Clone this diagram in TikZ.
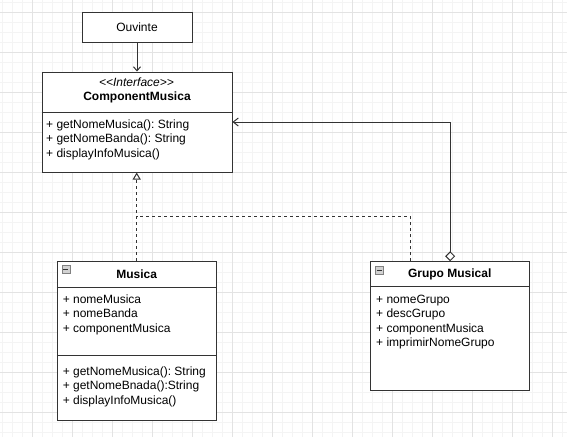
\documentclass[tikz,border=0pt]{standalone}
\usepackage{fontspec}
\setmainfont{Liberation Sans}
\usetikzlibrary{calc}
\usetikzlibrary{arrows.meta}
\frenchspacing

\definecolor{gridmajor}{HTML}{E3E3E3}
\definecolor{gridminor}{HTML}{F4F4F4}
\definecolor{umlline}{HTML}{333333}

\tikzset{
    classbox/.style={draw=umlline, line width=1pt, fill=white, inner sep=0pt},
    classname/.style={inner sep=0pt, font=\fontsize{12}{14}\selectfont\bfseries},
    member/.style={anchor=west, inner sep=0pt, text height=8.7pt, text depth=2.5pt,
        font=\fontsize{12}{14}\selectfont},
    assoc/.style={draw=umlline, line width=1pt, -{Straight Barb[length=4pt,width=7pt]}},
    realize/.style={draw=umlline, line width=1pt, dash pattern=on 3pt off 3pt,
        -{Triangle[length=7pt,width=8pt,fill=white]}},
    realizeline/.style={draw=umlline, line width=1pt, dash pattern=on 3pt off 3pt},
    aggr/.style={draw=umlline, line width=1pt,
        {Diamond[length=10pt,width=10pt,fill=white]}-{Straight Barb[length=5pt,width=8pt]}}
}

\begin{document}
\begin{tikzpicture}[x=1pt,y=-1pt]
        \useasboundingbox (0,0) rectangle (567,437);
        \fill[white] (0,0) rectangle (567,437);

        % grid
        \foreach \x in {2,12,...,562}
            \draw[gridminor, line width=0.8pt] (\x,0) -- (\x,437);
        \foreach \y in {2,12,...,432}
            \draw[gridminor, line width=0.8pt] (0,\y) -- (567,\y);
        \foreach \x in {32,72,...,552}
            \draw[gridmajor, line width=0.8pt] (\x,0) -- (\x,437);
        \foreach \y in {12,52,...,412}
            \draw[gridmajor, line width=0.8pt] (0,\y) -- (567,\y);

        % ouvinte
        \node[classbox, minimum width=110pt, minimum height=30pt,
            font=\fontsize{12}{14}\selectfont] (ouvinte) at (137,27) {Ouvinte};

        % interface
        \node[classbox, minimum width=190pt, minimum height=100pt] (iface) at (137,122) {};
        \draw[umlline, line width=1pt] (iface.west |- 0,112) -- (iface.east |- 0,112);
        \node[inner sep=0pt, font=\fontsize{12}{14}\selectfont\itshape] (iface-stereo) at (136.5,82.7)
            {<\kern0pt<Interface>\kern0pt>};
        \node[classname] (iface-name) at (137,97.5) {ComponentMusica};
        \node[member] (iface-op1) at (46,125.7) {+ getNomeMusica(): String};
        \node[member] (iface-op2) at (46,139.5) {+ getNomeBanda(): String};
        \node[member] (iface-op3) at (46,154) {+ displayInfoMusica()};

        % musica
        \node[classbox, minimum width=158.7pt, minimum height=159pt] (musica) at (136.7,340.5) {};
        \draw[umlline, line width=1pt] (musica.west |- 0,287.3) -- (musica.east |- 0,287.3);
        \draw[umlline, line width=1pt] (musica.west |- 0,355) -- (musica.east |- 0,355);
        \draw[gray, fill=gray!35] ($(musica.north west)+(5,5)$) rectangle ($(musica.north west)+(13,13)$);
        \draw[umlline] ($(musica.north west)+(6.5,9)$) -- ($(musica.north west)+(11.5,9)$);
        \node[classname] (musica-name) at (136.7,274.3) {Musica};
        \node[member] (musica-at1) at (62.6,300.7) {+ nomeMusica};
        \node[member] (musica-at2) at (62.6,314.3) {+ nomeBanda};
        \node[member] (musica-at3) at (62.6,329) {+ componentMusica};
        \node[member] (musica-op1) at (62.6,372.3) {+ getNomeMusica(): String};
        \node[member] (musica-op2) at (62.6,386) {+ getNomeBnada():String};
        \node[member] (musica-op3) at (62.6,401) {+ displayInfoMusica()};

        % grupo musical
        \node[classbox, minimum width=159pt, minimum height=128.3pt] (grupo) at (450.2,325.9) {};
        \draw[umlline, line width=1pt] (grupo.west |- 0,286.7) -- (grupo.east |- 0,286.7);
        \draw[gray, fill=gray!35] ($(grupo.north west)+(5,5)$) rectangle ($(grupo.north west)+(13,13)$);
        \draw[umlline] ($(grupo.north west)+(6.5,9)$) -- ($(grupo.north west)+(11.5,9)$);
        \node[classname] (grupo-name) at (449.7,274) {Grupo Musical};
        \node[member] (grupo-at1) at (376,300.7) {+ nomeGrupo};
        \node[member] (grupo-at2) at (376,314.3) {+ descGrupo};
        \node[member] (grupo-at3) at (376,329.3) {+ componentMusica};
        \node[member] (grupo-at4) at (376,343.3) {+ imprimirNomeGrupo};

        % connectors
        \draw[assoc] (ouvinte) -- (iface);
        \draw[realize] (musica.north) -- (musica.north |- iface.south);
        \coordinate (gtop) at ($(grupo.north west)!0.25!(grupo.north east)$);
        \coordinate (junc) at (136.7,216.7);
        \draw[realizeline] (gtop) |- (junc);
        \draw[aggr] (grupo.north) |- (iface.east);
    \end{tikzpicture}
\end{document}
